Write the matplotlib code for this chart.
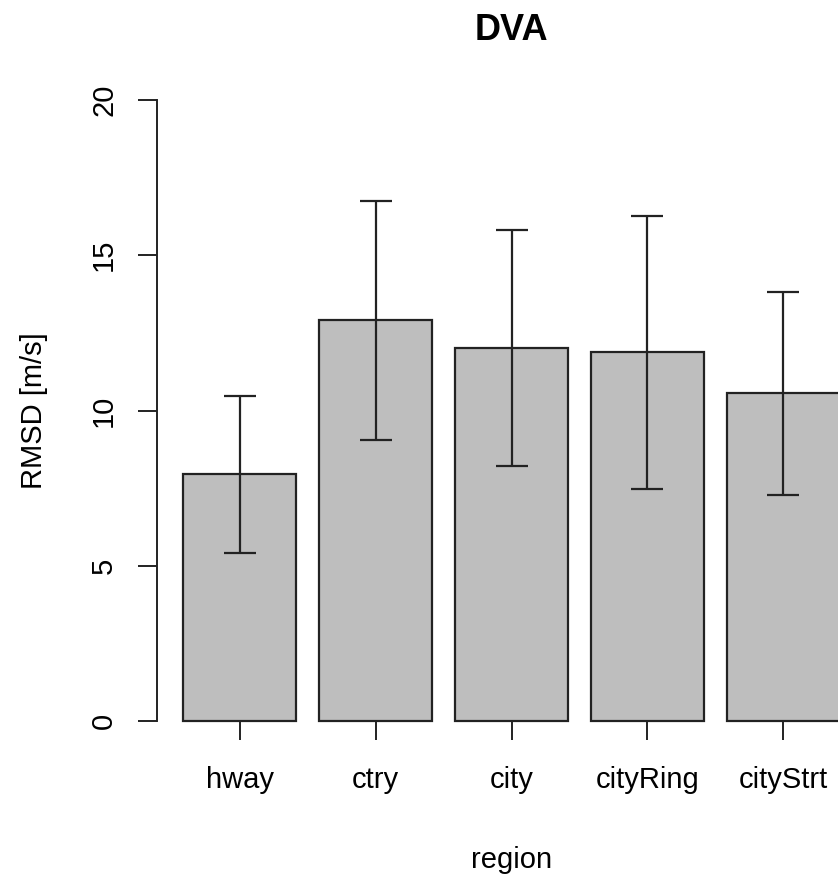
import matplotlib
matplotlib.use("Agg")
import matplotlib.pyplot as plt
import numpy as np

plt.rcParams['font.family'] = ['Liberation Sans', 'DejaVu Sans']

# mean RMSD per region with standard deviation
regions = ['hway', 'ctry', 'city', 'cityRing', 'cityStrt']
rmsd_mean = [7.94, 12.90, 12.01, 11.87, 10.56]
rmsd_sd = [2.53, 3.86, 3.79, 4.40, 3.27]
yticks = [0, 5, 10, 15, 20]

# barplot-style positions: width 1, space 0.2
pos = 0.7 + 1.2 * np.arange(len(regions))

fig = plt.figure(figsize=(8.38, 8.76), dpi=100)
ax = fig.add_axes([157 / 838, 155 / 876, (866 - 157) / 838, 621 / 876])

ax.bar(pos, rmsd_mean, width=1.0, color='#bebebe', edgecolor='#222222',
       linewidth=1.6, clip_on=False, zorder=2)
ax.errorbar(pos, rmsd_mean, yerr=rmsd_sd, fmt='none', ecolor='#222222',
            elinewidth=1.6, capsize=11.5, capthick=1.6, clip_on=False, zorder=3)

ax.set_xlim(-0.032, 6.232)
ax.set_ylim(0, 20)

for s in ['top', 'right', 'bottom']:
    ax.spines[s].set_visible(False)
ax.spines['left'].set_linewidth(1.4)
ax.spines['left'].set_color('#222222')

ax.set_yticks(yticks)
ax.set_yticklabels([str(t) for t in yticks], rotation=90, va='center')
ax.set_xticks(pos)
ax.set_xticklabels(regions)
ax.tick_params(axis='both', direction='out', length=14, width=1.4,
               color='#222222', labelsize=21)
ax.tick_params(axis='y', pad=14)
ax.tick_params(axis='x', pad=18.5)

ax.set_title('DVA', fontsize=26, fontweight='bold', pad=43)
ax.set_xlabel('region', fontsize=21, labelpad=37)
ax.set_ylabel('RMSD [m/s]', fontsize=21, labelpad=30)

fig.savefig('out.png', dpi=100)
